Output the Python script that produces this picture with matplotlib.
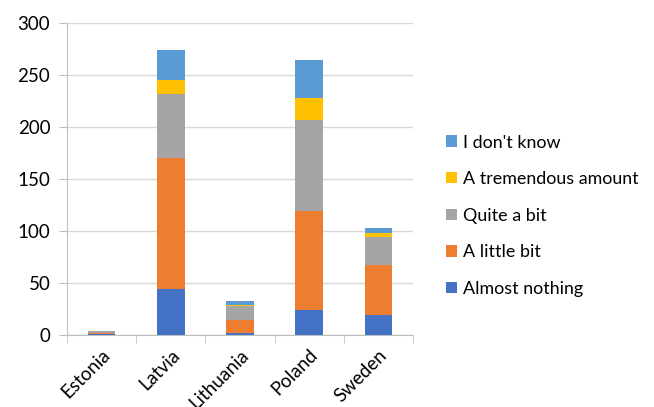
import numpy as np
import matplotlib.pyplot as plt

plt.rcParams['font.family'] = ['Lato', 'DejaVu Sans']

countries = ["Estonia", "Latvia", "Lithuania", "Poland", "Sweden"]

almost_nothing = [1, 44, 2, 24, 19]
a_little_bit = [1, 126, 12, 95, 48]
quite_a_bit = [2, 62, 14, 88, 27]
tremendous = [0, 13, 1, 21, 4]
dont_know = [0, 29, 4, 36, 5]

series = [
    ("Almost nothing", almost_nothing, "#4472C4"),
    ("A little bit", a_little_bit, "#ED7D31"),
    ("Quite a bit", quite_a_bit, "#A5A5A5"),
    ("A tremendous amount", tremendous, "#FFC000"),
    ("I don't know", dont_know, "#5B9BD5"),
]

fig = plt.figure(figsize=(6.54, 4.07), dpi=100)
ax = fig.add_axes([0.1024, 0.177, 0.529, 0.7665])

# stacked bars, one segment per answer
x = np.arange(len(countries))
bottom = np.zeros(len(countries))
handles = []
for name, vals, col in series:
    b = ax.bar(x, vals, 0.4, bottom=bottom, color=col, label=name, zorder=3)
    handles.append(b)
    bottom += np.array(vals)

ax.set_xlim(-0.5, len(countries) - 0.5)
ax.set_ylim(0, 300)
ax.set_yticks(range(0, 301, 50))
ax.yaxis.grid(True, color="#D9D9D9", linewidth=1, zorder=0)
ax.tick_params(axis="y", labelsize=13.5, length=6, color="#BFBFBF", pad=6)

ax.set_xticks(x)
ax.set_xticklabels(countries, rotation=45, ha="right", rotation_mode="anchor", fontsize=13.5)
ax.set_xticks(np.arange(-0.5, len(countries)), minor=True)
ax.tick_params(axis="x", which="major", length=0, pad=8)
ax.tick_params(axis="x", which="minor", length=6, color="#BFBFBF")

for s in ["top", "right"]:
    ax.spines[s].set_visible(False)
for s in ["left", "bottom"]:
    ax.spines[s].set_color("#BFBFBF")

leg = fig.legend(handles[::-1], [s[0] for s in series][::-1],
                 loc="center left", bbox_to_anchor=(0.657, 0.47),
                 frameon=False, fontsize=12.9, handlelength=0.6, handleheight=0.6,
                 handletextpad=0.35, labelspacing=1.15)

fig.savefig("out.png", dpi=100)
